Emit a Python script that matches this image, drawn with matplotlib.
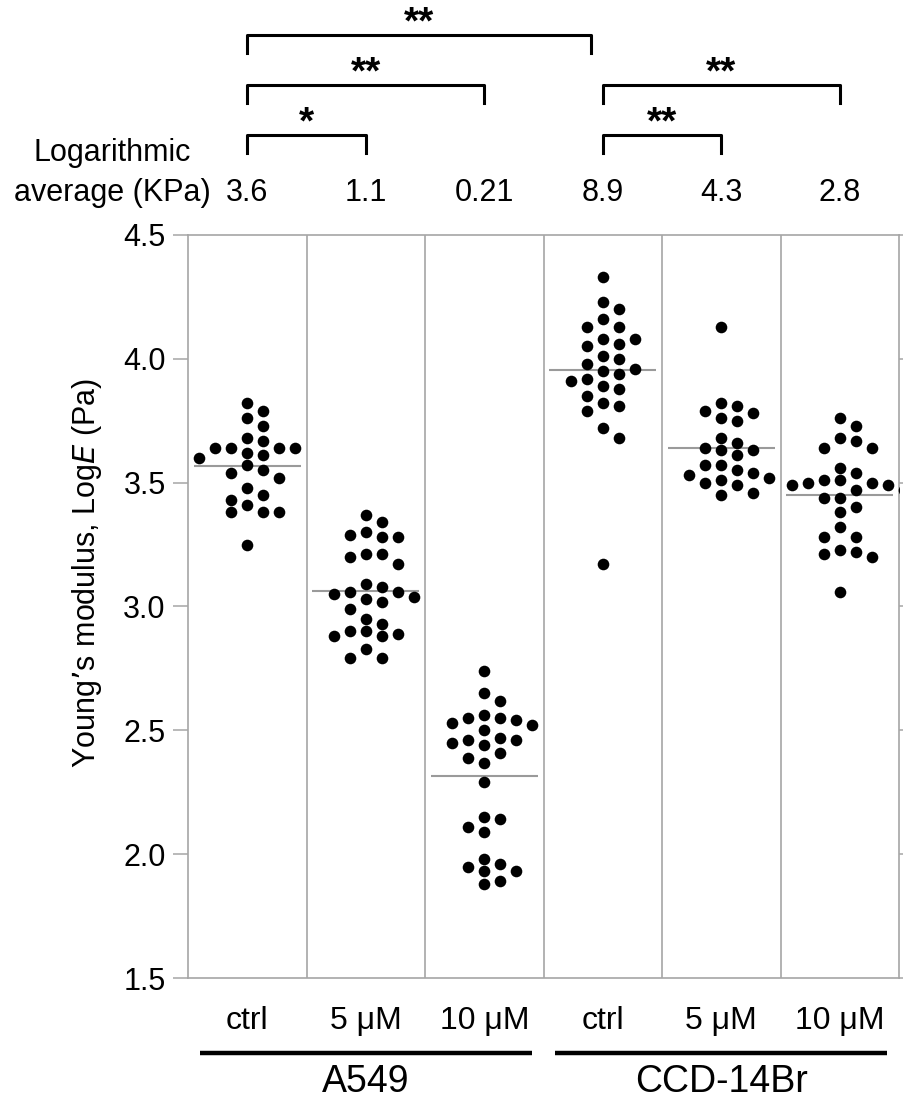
import numpy as np
import matplotlib
matplotlib.use("Agg")
import matplotlib.pyplot as plt

plt.rcParams["font.family"] = ["Liberation Sans", "DejaVu Sans"]

# Log10 Young's modulus (Pa), one list per condition
a549_ctrl = [3.82, 3.79, 3.76, 3.73, 3.68, 3.67, 3.64, 3.62, 3.64, 3.64, 3.64, 3.61, 3.60,
             3.57, 3.54, 3.55, 3.52, 3.48, 3.45, 3.41, 3.43, 3.38, 3.38, 3.38, 3.25]
a549_5um = [3.37, 3.34, 3.30, 3.28, 3.28, 3.29, 3.21, 3.20, 3.21, 3.17, 3.09, 3.06, 3.05,
            3.02, 3.04, 3.06, 3.08, 3.03, 2.99, 2.95, 2.93, 2.90, 2.88, 2.88, 2.89, 2.90,
            2.83, 2.79, 2.79]
a549_10um = [2.74, 2.65, 2.62, 2.55, 2.53, 2.55, 2.56, 2.52, 2.54, 2.50, 2.46, 2.44, 2.47,
             2.45, 2.46, 2.41, 2.39, 2.37, 2.29, 2.14, 2.15, 2.11, 2.09, 1.98, 1.96, 1.93,
             1.93, 1.95, 1.89, 1.88]
ccd_ctrl = [4.33, 4.23, 4.20, 4.16, 4.13, 4.13, 4.08, 4.06, 4.05, 4.08, 4.00, 3.98, 4.01,
            3.95, 3.96, 3.94, 3.92, 3.89, 3.88, 3.91, 3.85, 3.82, 3.79, 3.81, 3.72, 3.68, 3.17]
ccd_5um = [4.13, 3.81, 3.79, 3.76, 3.75, 3.78, 3.82, 3.66, 3.63, 3.61, 3.63, 3.64, 3.68,
           3.57, 3.55, 3.53, 3.54, 3.57, 3.52, 3.50, 3.51, 3.46, 3.45, 3.49]
ccd_10um = [3.76, 3.73, 3.68, 3.64, 3.64, 3.67, 3.54, 3.56, 3.51, 3.50, 3.49, 3.49, 3.50,
            3.51, 3.47, 3.44, 3.44, 3.47, 3.40, 3.38, 3.32, 3.28, 3.28, 3.23, 3.21, 3.20,
            3.22, 3.06]

groups = [a549_ctrl, a549_5um, a549_10um, ccd_ctrl, ccd_5um, ccd_10um]
conditions = ["ctrl", "5 μM", "10 μM", "ctrl", "5 μM", "10 μM"]
cell_lines = ["A549", "CCD-14Br"]
log_avg_kpa = ["3.6", "1.1", "0.21", "8.9", "4.3", "2.8"]

# (first group, second group, level from top, stars)
comparisons = [
    (0, 3, 0, "**"),
    (0, 2, 1, "**"),
    (3, 5, 1, "**"),
    (0, 1, 2, "*"),
    (3, 4, 2, "**"),
]


def swarm_offsets(values, step=0.135, gap=0.05):
    """Spread points into columns so close values do not overlap."""
    order = np.argsort(values)[::-1]
    slots = [0, 1, -1, 2, -2, 3, -3, 4, -4]
    placed = {s: [] for s in slots}
    offsets = np.zeros(len(values))
    for idx in order:
        v = values[idx]
        for s in slots:
            if all(abs(v - other) >= gap for other in placed[s]):
                placed[s].append(v)
                offsets[idx] = s * step
                break
    return offsets


fig = plt.figure(figsize=(9.04, 10.99), dpi=100)
ax = fig.add_axes([0.208, 0.1101, 0.7865, 0.6761])

grey = "#a6a6a6"
for i, vals in enumerate(groups):
    vals = np.asarray(vals)
    xs = i + swarm_offsets(vals)
    ax.scatter(xs, vals, s=70, color="black", zorder=3, linewidths=0)
    ax.hlines(vals.mean(), i - 0.45, i + 0.45, color="#9a9a9a", linewidth=1.5, zorder=2)
    if i > 0:
        ax.axvline(i - 0.5, color=grey, linewidth=1.2, zorder=1)

ax.set_xlim(-0.5, len(groups) - 0.5)
ax.set_ylim(1.5, 4.5)
ax.set_yticks([1.5, 2.0, 2.5, 3.0, 3.5, 4.0, 4.5])
ax.set_yticklabels([f"{t:.1f}" for t in ax.get_yticks()], fontsize=22)
ax.tick_params(axis="y", which="both", direction="out", length=11, width=1.1,
               color=grey, pad=5, right=True)
ax.set_xticks(range(len(groups)))
ax.set_xticklabels(conditions, fontsize=23)
ax.tick_params(axis="x", length=0, pad=20)
for side in ax.spines.values():
    side.set_color(grey)
    side.set_linewidth(1.2)

ax.set_ylabel("Young’s modulus, Log$\\it{E}$ (Pa)", fontsize=22)
ax.yaxis.set_label_coords(-0.118, 0.545)

# cell line bars and names below the condition labels
xt = ax.get_xaxis_transform()
for k, name in enumerate(cell_lines):
    lo, hi = 3 * k - 0.4, 3 * k + 2.4
    ax.plot([lo, hi], [-0.101, -0.101], transform=xt, color="black",
            linewidth=3.2, clip_on=False, solid_capstyle="butt")
    ax.text(3 * k + 1, -0.140, name, transform=xt, ha="center", va="center",
            fontsize=27)

# logarithmic averages row
ax.text(-1.14, 1.110, "Logarithmic", transform=xt, ha="center", va="center",
        fontsize=22)
ax.text(-1.14, 1.056, "average (KPa)", transform=xt, ha="center", va="center",
        fontsize=22)
for i, lab in enumerate(log_avg_kpa):
    ax.text(i, 1.056, lab, transform=xt, ha="center", va="center", fontsize=22)

# significance brackets
level_y = [1.269, 1.202, 1.134]
drop = 0.024
for a, b, level, stars in comparisons:
    y = level_y[level]
    right = b - 0.1 if level == 0 else b
    ax.plot([a, a, right, right], [y - drop, y, y, y - drop], transform=xt,
            color="black", linewidth=2.2, clip_on=False)
    # asterisks sit high in the em box, so anchor the baseline near the bar
    ax.text((a + right) / 2, y + 0.002, stars, transform=xt, ha="center",
            va="baseline", fontsize=28, fontweight="bold")

fig.savefig("out.png", dpi=100)
